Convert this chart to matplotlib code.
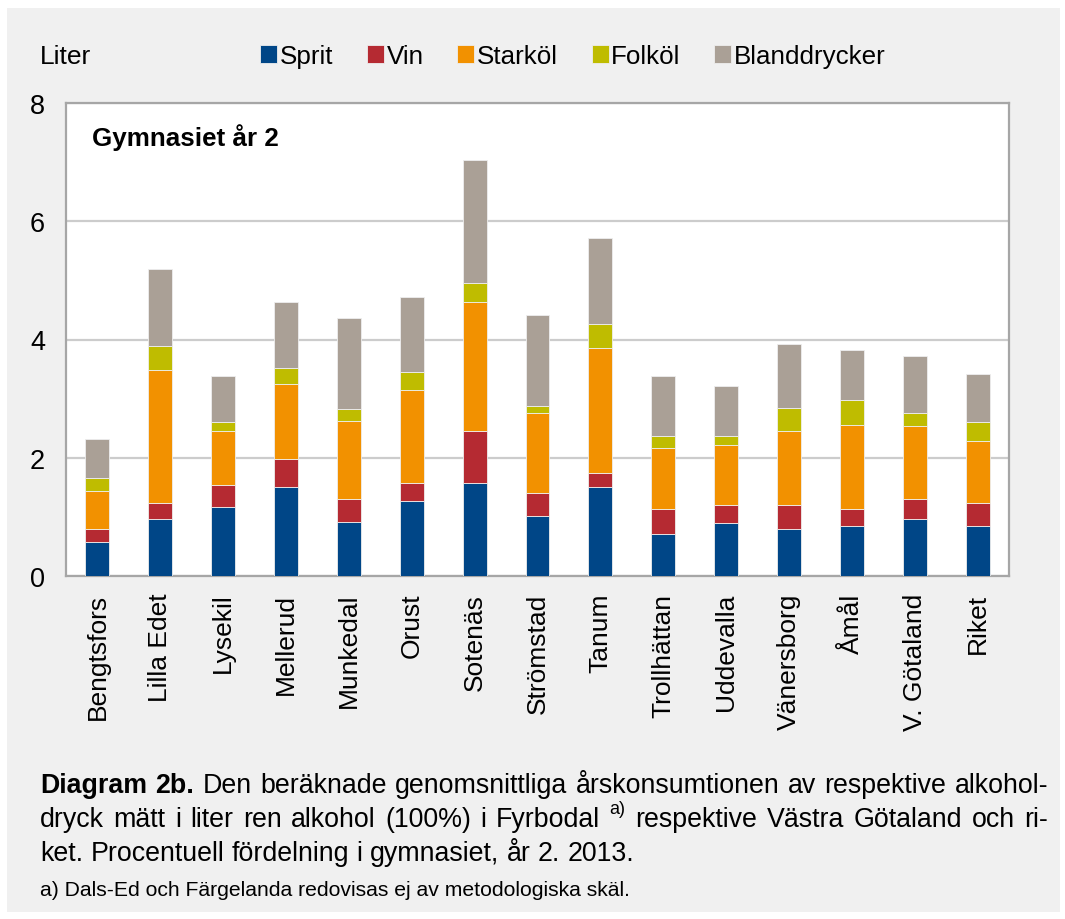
import numpy as np
import matplotlib
matplotlib.use('Agg')
import matplotlib.pyplot as plt
from matplotlib.patches import Rectangle

plt.rcParams['font.family'] = ['Liberation Sans', 'DejaVu Sans']

kommuner = ['Bengtsfors', 'Lilla Edet', 'Lysekil', 'Mellerud', 'Munkedal', 'Orust', 'Sotenäs',
            'Strömstad', 'Tanum', 'Trollhättan', 'Uddevalla', 'Vänersborg', 'Åmål', 'V. Götaland', 'Riket']
sprit = [0.58, 0.96, 1.17, 1.51, 0.92, 1.27, 1.58, 1.02, 1.51, 0.71, 0.89, 0.79, 0.85, 0.96, 0.85]
vin = [0.21, 0.28, 0.37, 0.47, 0.38, 0.31, 0.87, 0.38, 0.24, 0.42, 0.31, 0.41, 0.28, 0.34, 0.38]
starkol = [0.65, 2.25, 0.91, 1.26, 1.32, 1.57, 2.19, 1.36, 2.11, 1.03, 1.02, 1.26, 1.43, 1.23, 1.06]
folkol = [0.21, 0.40, 0.15, 0.28, 0.21, 0.30, 0.31, 0.11, 0.41, 0.20, 0.14, 0.38, 0.41, 0.23, 0.31]
bland = [0.67, 1.30, 0.78, 1.12, 1.54, 1.27, 2.09, 1.54, 1.44, 1.02, 0.85, 1.09, 0.86, 0.96, 0.82]

serier = ['Sprit', 'Vin', 'Starköl', 'Folköl', 'Blanddrycker']
farger = ['#004687', '#b52a32', '#f29100', '#bfbc00', '#aaa096']
yticks = [0, 2, 4, 6, 8]

W, H = 1065, 920
fig = plt.figure(figsize=(W / 100, H / 100), dpi=100)
fig.patch.set_facecolor('white')
fig.patches.append(Rectangle((7 / W, 1 - 913 / H), (1060 - 7) / W, (913 - 9) / H,
                             transform=fig.transFigure, facecolor='#f0f0f0', edgecolor='none', zorder=-10))

ax = fig.add_axes([66 / W, 1 - 577 / H, (1009 - 66) / W, (577 - 104) / H])
ax.set_facecolor('white')

x = np.arange(len(kommuner))
bottom = np.zeros(len(kommuner))
for namn, vals, c in zip(serier, [sprit, vin, starkol, folkol, bland], farger):
    ax.bar(x, vals, 0.38, bottom=bottom, color=c, edgecolor='#eeeeee', linewidth=0.6, label=namn, zorder=3)
    bottom += np.array(vals)

ax.set_xlim(-0.5, len(kommuner) - 0.5)
ax.set_ylim(0, 8)
ax.set_yticks(yticks)
ax.set_xticks(x)
ax.set_xticklabels(kommuner, rotation=90, fontsize=19)
ax.tick_params(axis='y', length=0, pad=15, labelsize=19.5)
ax.tick_params(axis='x', length=0, pad=12)
ax.grid(axis='y', color='#cccccc', linewidth=1.6, zorder=0)
for s in ax.spines.values():
    s.set_color('#a6a6a6')
    s.set_linewidth(1.6)

ax.text(0.0276, 0.928, 'Gymnasiet år 2', transform=ax.transAxes, fontsize=18.7,
        fontweight='bold', va='center', ha='left')

fig.text(40 / W, 1 - 57 / H, 'Liter', fontsize=19, va='center', ha='left')
fig.legend(loc='center', bbox_to_anchor=(0.538, 1 - 57 / H), ncol=5, frameon=False, fontsize=18.7,
           handlelength=0.65, handleheight=0.65, handletextpad=0.1, columnspacing=1.3, borderpad=0)

# caption, justified line by line
r = fig.canvas.get_renderer()
cap = 19.3


def width_of(word, size, weight):
    t = fig.text(0, 0, word, fontsize=size, fontweight=weight)
    w = t.get_window_extent(r).width
    t.remove()
    return w


def place_line(tokens, base_y, x0, x1=None):
    ws = [width_of(w, s, wt) for w, s, wt, dy in tokens]
    if x1 is None:
        gap = width_of('a b', cap, 'normal') - width_of('ab', cap, 'normal')
    else:
        gap = (x1 - x0 - sum(ws)) / (len(tokens) - 1)
    xp = x0
    for (w, s, wt, dy), wd in zip(tokens, ws):
        fig.text(xp / W, 1 - (base_y - dy) / H, w, fontsize=s, fontweight=wt, va='baseline', ha='left')
        xp += wd + gap


def norm(txt):
    return [(w, cap, 'normal', 0) for w in txt.split()]


rad1 = [('Diagram', cap, 'bold', 0), ('2b.', cap, 'bold', 0)] + \
    norm('Den beräknade genomsnittliga årskonsumtionen av respektive alkohol-')
rad2 = norm('dryck mätt i liter ren alkohol (100%) i Fyrbodal') + [('a)', 13, 'normal', 13)] + \
    norm('respektive Västra Götaland och ri-')
rad3 = norm('ket. Procentuell fördelning i gymnasiet, år 2. 2013.')

place_line(rad1, 793, 40, 1048)
place_line(rad2, 827, 40, 1048)
place_line(rad3, 861, 40)
fig.text(40 / W, 1 - 896 / H, 'a) Dals-Ed och Färgelanda redovisas ej av metodologiska skäl.',
         fontsize=15.2, va='baseline', ha='left')

plt.savefig('out.png', dpi=100, facecolor=fig.get_facecolor())
